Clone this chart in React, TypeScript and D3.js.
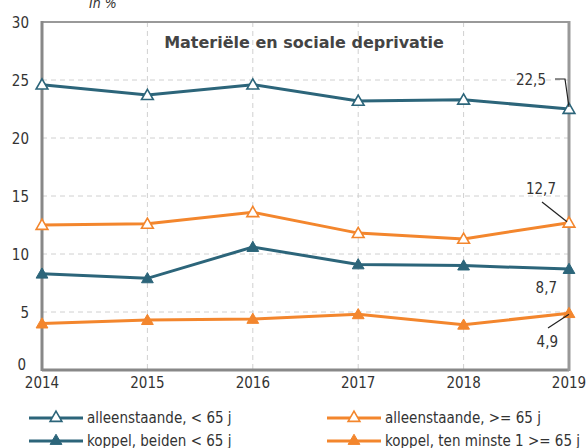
import React from 'react';
import * as d3 from 'd3';

const years = [2014, 2015, 2016, 2017, 2018, 2019];
const yTicks = [0, 5, 10, 15, 20, 25, 30];

const alleenOnder65 = [24.6, 23.7, 24.6, 23.2, 23.3, 22.5];
const alleenBoven65 = [12.5, 12.6, 13.6, 11.8, 11.3, 12.7];
const koppelOnder65 = [8.3, 7.9, 10.6, 9.1, 9.0, 8.7];
const koppelBoven65 = [4.0, 4.3, 4.4, 4.8, 3.9, 4.9];

const TEAL = '#2c657a';
const ORANGE = '#f3862d';

const series = [
  { name: 'alleenstaande, < 65 j', values: alleenOnder65, color: TEAL, filled: false },
  { name: 'alleenstaande, >= 65 j', values: alleenBoven65, color: ORANGE, filled: false },
  { name: 'koppel, beiden < 65 j', values: koppelOnder65, color: TEAL, filled: true },
  { name: 'koppel, ten minste 1 >= 65 j', values: koppelBoven65, color: ORANGE, filled: true },
];

const W = 587;
const H = 448;
const font = '"DejaVu Sans Condensed", "DejaVu Sans", sans-serif';

const x = d3.scaleLinear().domain([2014, 2019]).range([42, 569]);
const y = d3.scaleLinear().domain([0, 30]).range([370, 22]);

const tri = d3.symbol().type(d3.symbolTriangle).size(60);

function Marker({ cx, cy, color, filled }) {
  return (
    <path
      d={tri() as string}
      transform={`translate(${cx},${cy})`}
      fill={filled ? color : '#fff'}
      stroke={color}
      strokeWidth={filled ? 1 : 1.6}
    />
  );
}

export default function App() {
  const line = d3.line<number>().x((_, i) => x(years[i])).y(d => y(d));
  const last = years.length - 1;
  const x19 = x(2019);

  return (
    <svg width={W} height={H} style={{ position: 'absolute', left: 0, top: 0 }}>
      <rect width={W} height={H} fill="#fff" />
      <text x={89} y={8} fontFamily={font} fontStyle="italic" fontSize={14} fill="#333">In %</text>

      {/* grid */}
      {yTicks.filter(t => t > 0 && t < 30).map(t => (
        <line key={t} x1={x(2014)} x2={x(2019)} y1={y(t)} y2={y(t)} stroke="#d0d0d0" strokeDasharray="5,4" />
      ))}
      {years.slice(1, -1).map(yr => (
        <line key={yr} x1={x(yr)} x2={x(yr)} y1={y(30)} y2={y(0)} stroke="#d0d0d0" strokeDasharray="5,4" />
      ))}
      <line x1={x(2014)} x2={x(2019)} y1={y(30)} y2={y(30)} stroke="#999" strokeWidth={2} />
      <line x1={x(2014)} x2={x(2019)} y1={y(0)} y2={y(0)} stroke="#888" strokeWidth={3} />
      <line x1={x(2014)} x2={x(2014)} y1={y(30) - 1} y2={y(0) + 1} stroke="#888" strokeWidth={3} />
      <line x1={x(2019)} x2={x(2019)} y1={y(30) - 1} y2={y(0) + 1} stroke="#999" strokeWidth={3} />

      {/* tick labels */}
      {yTicks.map(t => (
        <text key={t} x={t === 0 ? 26 : 29} y={y(t) + (t === 0 ? 0 : 6)} textAnchor="end" fontFamily={font} fontSize={15} fill="#333">{t}</text>
      ))}
      {years.map(yr => (
        <text key={yr} x={x(yr)} y={388} textAnchor="middle" fontFamily={font} fontSize={15} fill="#333">{yr}</text>
      ))}

      <text x={304} y={48} textAnchor="middle" fontFamily='"DejaVu Sans", sans-serif' fontWeight="bold" fontSize={16} fill="#444">Materiële en sociale deprivatie</text>

      {/* series */}
      {series.map(s => (
        <g key={s.name}>
          <path d={line(s.values) as string} fill="none" stroke={s.color} strokeWidth={3} />
          {s.values.map((v, i) => (
            <Marker key={i} cx={x(years[i])} cy={y(v) + 1} color={s.color} filled={s.filled} />
          ))}
        </g>
      ))}

      {/* annotations */}
      <g fontFamily={font} fontSize={15} fill="#333">
        <text x={546} y={85} textAnchor="end">22,5</text>
        <polyline points={`555,79 565,79 ${x19},${y(alleenOnder65[last]) - 2}`} fill="none" stroke="#222" strokeWidth={1.2} />
        <text x={556} y={194} textAnchor="end">12,7</text>
        <line x1={542} y1={202} x2={x19 - 2} y2={y(alleenBoven65[last]) - 1} stroke="#222" strokeWidth={1.2} />
        <text x={557} y={293} textAnchor="end">8,7</text>
        <text x={558} y={347} textAnchor="end">4,9</text>
        <line x1={548} y1={328} x2={x19} y2={y(koppelBoven65[last]) + 1} stroke="#222" strokeWidth={1.2} />
      </g>

      {/* legend */}
      {series.map((s, i) => {
        const col = i % 2;
        const row = Math.floor(i / 2);
        const lx = col === 0 ? 29 : 327;
        const ly = row === 0 ? 418 : 441;
        return (
          <g key={s.name}>
            <line x1={lx} x2={lx + 54} y1={ly} y2={ly} stroke={s.color} strokeWidth={3} />
            <Marker cx={lx + 27} cy={ly} color={s.color} filled={s.filled} />
            <text x={lx + 58} y={ly + 5} fontFamily={font} fontSize={15} fill="#333">{s.name}</text>
          </g>
        );
      })}
    </svg>
  );
}
